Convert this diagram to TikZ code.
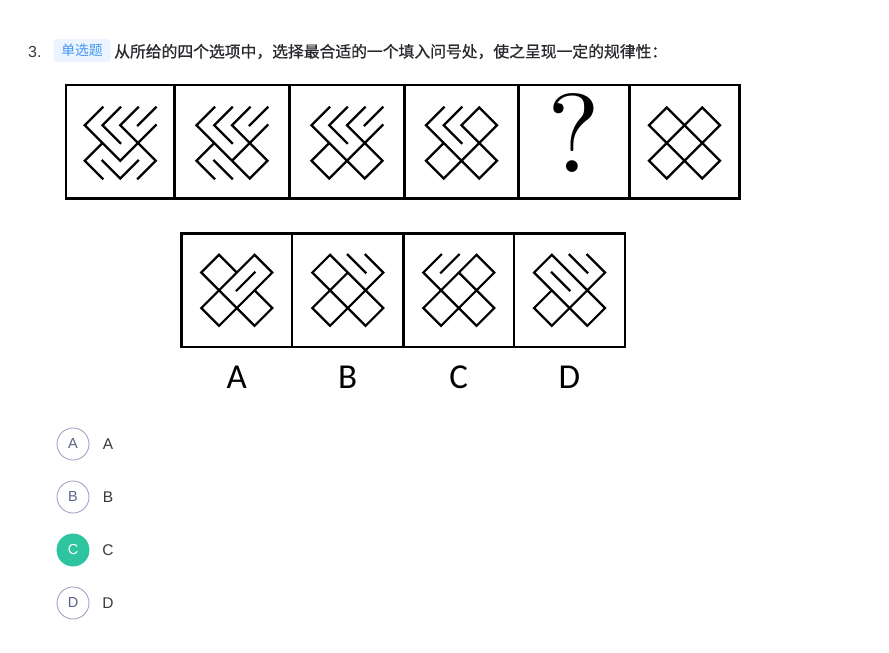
\documentclass[tikz,border=0pt]{standalone}
\usepackage{fontspec}
\newfontfamily\cjk{Noto Sans CJK SC}[FakeBold=0.9]
\newfontfamily\cjktag{Noto Sans CJK SC}
\newfontfamily\uisans{Liberation Sans}
\newfontfamily\carl{Carlito}
\newfontfamily\qmf{lmroman10-regular}[Extension=.otf]
\definecolor{tagbg}{RGB}{236,245,255}
\definecolor{tagtx}{RGB}{64,150,245}
\definecolor{qtx}{RGB}{40,42,46}
\definecolor{numtx}{RGB}{55,58,64}
\definecolor{circst}{RGB}{160,165,200}
\definecolor{circtx}{RGB}{90,96,135}
\definecolor{okgreen}{RGB}{46,196,160}
\def\sgA{(-1,-2)--(-2,-1)}
\def\sgB{(-2,-1)--(-1,0)}
\def\sgC{(-1,-2)--(0,-1)}
\def\sgD{(0,-1)--(-1,0)}
\def\sgE{(1,-2)--(0,-1)}
\def\sgF{(0,-1)--(1,0)}
\def\sgG{(1,-2)--(2,-1)}
\def\sgH{(2,-1)--(1,0)}
\def\sgI{(-1,0)--(-2,1)}
\def\sgJ{(-2,1)--(-1,2)}
\def\sgK{(-1,0)--(0,1)}
\def\sgL{(0,1)--(-1,2)}
\def\sgM{(1,0)--(0,1)}
\def\sgN{(0,1)--(1,2)}
\def\sgO{(1,0)--(2,1)}
\def\sgP{(2,1)--(1,2)}
\def\sgCf{(-1,-1)--(0,-2)}
\def\sgDf{(-1,-1)--(0,0)}
\def\sgEf{(0,-2)--(1,-1)}
\def\sgFf{(0,0)--(1,-1)}
\def\sgGf{(1,-1)--(2,-2)}
\def\sgLf{(-1,1)--(0,2)}
\def\sgNf{(0,2)--(1,1)}
\newcommand\figat[3]{\begin{scope}[shift={(#1pt,-#2pt)},x=17.75pt,y=-17.75pt]\draw[figline] #3;\end{scope}}
\begin{document}
\begin{tikzpicture}[x=1pt,y=-1pt,
  figline/.style={line width=2.2pt,line cap=rect},
  framebox/.style={line width=2.7pt},
  optcirc/.style={circle,draw=circst,line width=0.9pt,minimum size=32pt,inner sep=0pt,text=circtx,font=\uisans\fontsize{14.5}{14.5}\selectfont},
  optlab/.style={anchor=center,text=numtx,font=\uisans\fontsize{15.5}{15.5}\selectfont},
  biglab/.style={anchor=center,font=\carl\fontsize{35}{35}\selectfont}]
\useasboundingbox[fill=white] (0,0) rectangle (889,653);
% header
\node[anchor=west,inner sep=0pt,text=numtx,font=\uisans\fontsize{16}{16}\selectfont] (num) at (28,52) {3.};
\node[fill=tagbg,rounded corners=3pt,minimum width=57pt,minimum height=23pt,inner sep=0pt,text=tagtx,font=\cjktag\fontsize{13.8}{13.8}\selectfont] (tag) at (82,50.7) {单选题};
\node[anchor=west,inner sep=0pt,text=qtx,font=\cjk\fontsize{15.8}{15.8}\selectfont] (q) at (114,51.5) {从所给的四个选项中，选择最合适的一个填入问号处，使之呈现一定的规律性：};
% top row frames
\draw[framebox] (66,85) rectangle (739.5,198.5);
\foreach \xx in {174.5,289.5,404.5,518.5,629.5} \draw[framebox] (\xx,85) -- (\xx,198.5);
% option frames
\draw[framebox] (181.5,233.5) rectangle (625,347);
\foreach \xx in {292,403.5,514} \draw[framebox] (\xx,233.5) -- (\xx,347);
% sequence figures
\figat{120.25}{143}{\sgA \sgB \sgCf \sgDf \sgE \sgF \sgGf \sgH \sgI \sgJ \sgK \sgLf \sgM \sgNf \sgO \sgP}
\figat{232}{143}{\sgA \sgB \sgCf \sgDf \sgE \sgF \sgGf \sgH \sgI \sgJ \sgK \sgLf \sgM \sgN \sgO \sgP}
\figat{347}{143}{\sgA \sgB \sgCf \sgDf \sgE \sgF \sgGf \sgH \sgI \sgJ \sgK \sgL \sgM \sgN \sgO \sgP}
\figat{461.5}{143}{\sgA \sgB \sgCf \sgDf \sgE \sgF \sgG \sgH \sgI \sgJ \sgK \sgL \sgM \sgN \sgO \sgP}
\node[inner sep=0pt,font=\qmf\fontsize{112}{112}\selectfont] (qm) at (574,133) {?};
\figat{684.5}{143}{\sgA \sgB \sgC \sgD \sgE \sgF \sgG \sgH \sgI \sgJ \sgK \sgL \sgM \sgN \sgO \sgP}
% options
\figat{236.75}{290.3}{\sgA \sgB \sgC \sgD \sgE \sgFf \sgG \sgH \sgI \sgJ \sgK \sgL \sgM \sgN \sgO \sgP}
\figat{347.75}{290.3}{\sgA \sgB \sgC \sgD \sgEf \sgF \sgG \sgH \sgI \sgJ \sgK \sgL \sgM \sgN \sgO \sgP}
\figat{458.75}{290.3}{\sgA \sgB \sgCf \sgD \sgE \sgF \sgG \sgH \sgI \sgJ \sgK \sgL \sgM \sgN \sgO \sgP}
\figat{569.5}{290.3}{\sgA \sgB \sgC \sgDf \sgEf \sgF \sgG \sgH \sgI \sgJ \sgK \sgL \sgM \sgN \sgO \sgP}
\node[biglab] (la) at (236.75,377) {A};
\node[biglab] (lb) at (347.75,377) {B};
\node[biglab] (lc) at (458.75,377) {C};
\node[biglab] (ld) at (569.5,377) {D};
% answer list
\node[optcirc] (ca) at (73,444) {A};
\node[optcirc] (cb) at (73,497) {B};
\node[optcirc,fill=okgreen,draw=okgreen,text=white] (cc) at (73,550) {C};
\node[optcirc] (cd) at (73,603) {D};
\node[optlab] (ta) at (108,444) {A};
\node[optlab] (tb) at (108,497) {B};
\node[optlab] (tc) at (108,550) {C};
\node[optlab] (td) at (108,603) {D};
\end{tikzpicture}
\end{document}
